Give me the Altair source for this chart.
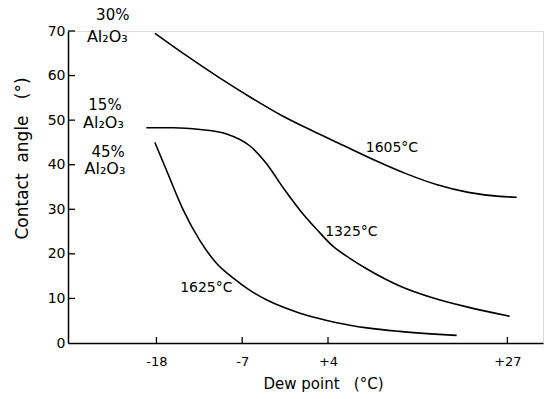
import altair as alt
import pandas as pd

# ---- data ----
dew_ticks = [-18, -7, 4, 27]
angle_ticks = [0, 10, 20, 30, 40, 50, 60, 70]

x_1605 = [-18.2, -14.0, -10.0, -6.0, -2.0, 2.0, 6.0, 10.0, 14.0, 18.0, 22.0, 26.0, 28.2]
y_1605 = [69.5, 64.3, 59.6, 55.2, 51.1, 47.6, 44.3, 41.0, 38.0, 35.5, 33.8, 32.9, 32.7]

x_1325 = [-19.3, -15.8, -12.4, -9.0, -6.0, -3.9, -1.7, 0.4, 2.6, 4.7, 6.8, 9.0, 13.2, 17.5, 21.8, 27.3]
y_1325 = [48.3, 48.3, 47.9, 46.9, 44.2, 40.3, 34.7, 29.8, 25.4, 21.6, 19.0, 16.6, 12.8, 10.1, 8.1, 6.0]

x_1625 = [-18.2, -16.7, -14.6, -12.4, -10.3, -8.1, -6.0, -3.9, -1.7, 0.4, 2.6, 4.7, 6.8, 9.0, 13.2, 20.5]
y_1625 = [45.0, 38.7, 30.0, 22.9, 17.9, 14.5, 11.8, 9.7, 8.0, 6.7, 5.6, 4.7, 4.0, 3.4, 2.6, 1.7]

series = [("1605", x_1605, y_1605), ("1325", x_1325, y_1325), ("1625", x_1625, y_1625)]
rows = []
for name, xs, ys in series:
    for i, (a, b) in enumerate(zip(xs, ys)):
        rows.append({"series": name, "order": i, "dew": a, "angle": b})
df = pd.DataFrame(rows)

FONT = "DejaVu Sans"
NB = "\u00a0"
W, H = 475, 312
xscale = alt.Scale(domain=[-29.34, 31.57], nice=False, zero=False)
yscale = alt.Scale(domain=[0, 70], nice=False, zero=False)

lines = alt.Chart(df).mark_line(
    color="black", strokeWidth=1.6, interpolate="monotone", clip=False
).encode(
    x=alt.X("dew:Q", scale=xscale, axis=alt.Axis(
        values=dew_ticks, tickSize=0, grid=False, labelPadding=12,
        labelExpr="datum.value > 0 ? '+' + datum.value : '-' + abs(datum.value)",
        labelFontSize=13, labelFont=FONT, labelColor="black",
        title="Dew" + NB + "point" + NB * 3 + "(°C)", titleFont=FONT, titleFontSize=15,
        titleFontWeight="normal", titleColor="black",
        titleX=255, titleY=40, titleAlign="center", titleBaseline="middle",
        domainColor="black", domainWidth=1.5)),
    y=alt.Y("angle:Q", scale=yscale, axis=alt.Axis(
        values=angle_ticks, tickSize=0, grid=False, labelPadding=3,
        labelFontSize=14, labelFont=FONT, labelColor="black",
        title="Contact" + NB * 2 + "angle" + NB * 3 + "(°)", titleFont=FONT, titleFontSize=17,
        titleFontWeight="normal", titleColor="black",
        titleX=-46, titleY=127, titleAngle=270, titleAlign="center",
        titleBaseline="middle",
        domainColor="black", domainWidth=1.5)),
    detail="series:N",
    order="order:Q",
)

xt = alt.Chart(pd.DataFrame({"dew": dew_ticks})).mark_rule(
    color="black", strokeWidth=1.3
).encode(x=alt.X("dew:Q", scale=xscale), y=alt.value(H), y2=alt.value(H - 6))

yt = alt.Chart(pd.DataFrame({"angle": angle_ticks[1:]})).mark_rule(
    color="black", strokeWidth=1.3
).encode(y=alt.Y("angle:Q", scale=yscale), x=alt.value(0), x2=alt.value(7))


def label(text, x, y, size=14):
    return alt.Chart(pd.DataFrame({"t": [text]})).mark_text(
        font=FONT, fontSize=size, color="black", align="center",
        baseline="middle", clip=False
    ).encode(
        x=alt.X("xv:Q", scale=xscale), y=alt.Y("yv:Q", scale=yscale), text="t:N"
    ).transform_calculate(xv=str(x), yv=str(y))


labels = [
    label("30%", -23.6, 73.6, 15),
    label("Al₂O₃", -24.3, 68.6, 16),
    label("15%", -24.6, 53.3, 15),
    label("Al₂O₃", -24.8, 49.3, 16),
    label("45%", -24.2, 42.9, 15),
    label("Al₂O₃", -24.6, 39.0, 16),
    label("1605°C", 12.2, 43.8),
    label("1325°C", 7.0, 25.0),
    label("1625°C", -11.6, 12.4),
]

chart = alt.layer(lines, xt, yt, *labels).properties(
    width=W, height=H,
    autosize=alt.AutoSizeParams(type="none"),
    padding={"left": 68, "top": 31, "right": 1, "bottom": 56},
).configure_view(stroke=None).configure(background="white")

chart.save("out.html", embed_options={"renderer": "svg", "actions": False})
